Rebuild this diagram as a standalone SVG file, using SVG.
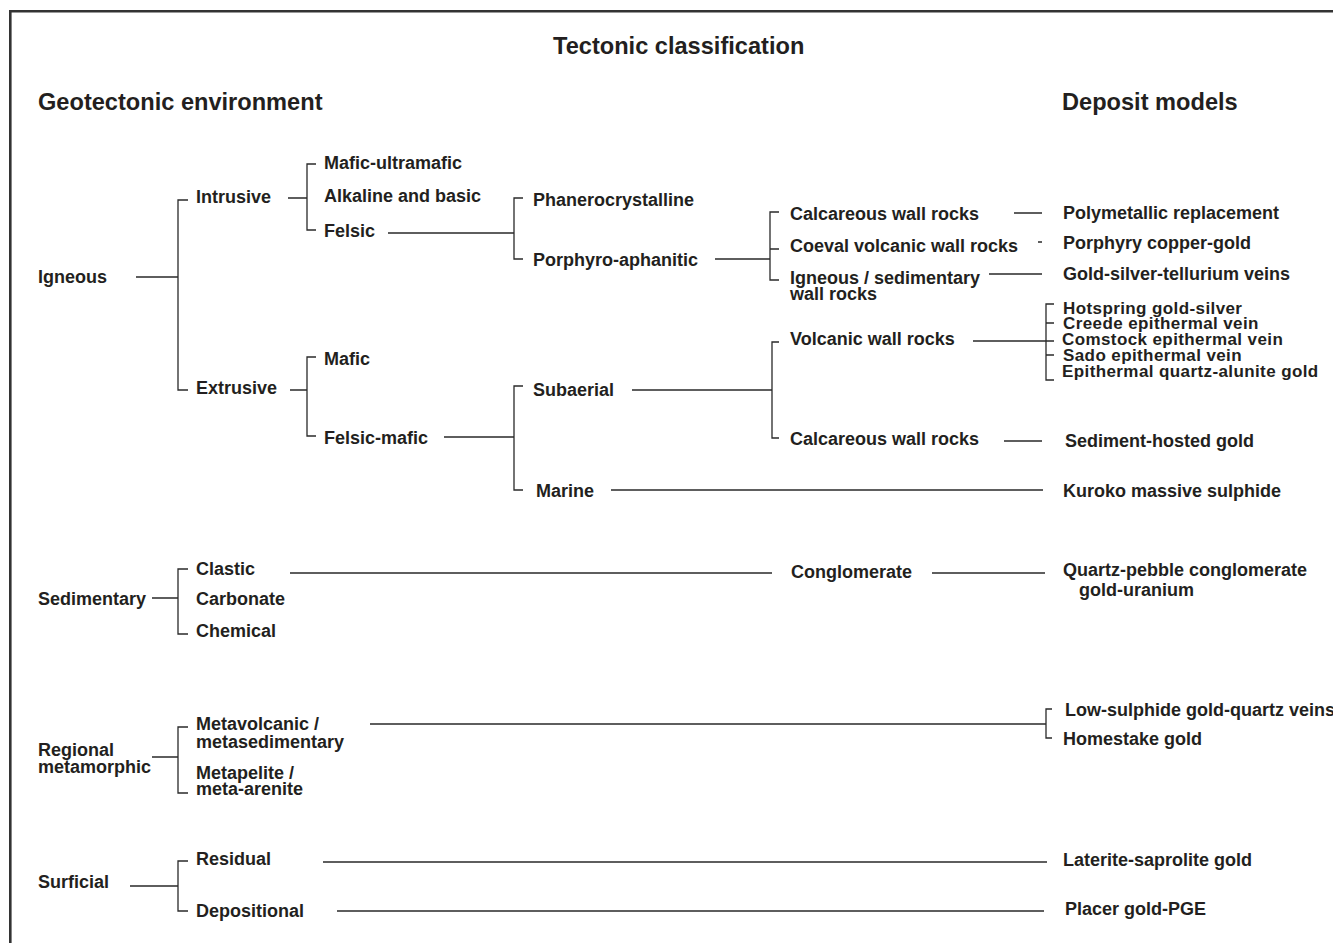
<svg xmlns="http://www.w3.org/2000/svg" width="1333" height="943" viewBox="0 0 1333 943">
<style>
text{font-family:"Liberation Sans",Arial,Helvetica,sans-serif;font-weight:bold;fill:#231f20}
.l{font-size:18px}
.e{font-size:17px;letter-spacing:0.4px}
.h{font-size:23.6px}
.c{fill:none;stroke:#2a2a2a;stroke-width:1.3}
.f{fill:none;stroke:#333;stroke-width:2.6}
</style>
<rect width="1333" height="943" fill="#fff"/>
<g id="frame"><path class="f" d="M10.3 943V11.3H1333"/></g>
<g id="headings">
<text class="h" x="553" y="54">Tectonic classification</text>
<text class="h" x="38" y="110">Geotectonic environment</text>
<text class="h" x="1062" y="110">Deposit models</text>
</g>
<g id="connectors" class="c">
<path d="M136 277H178M188 200H178V390H188"/>
<path d="M288 198H307M316 164H307V230H316"/>
<path d="M290 390H307M316 357H307V436H316"/>
<path d="M388 233H514M523 198H514V259H523"/>
<path d="M715 259H770M779 212H770V280H779M770 249H779"/>
<path d="M444 437H514M523 386H514V490H523"/>
<path d="M632 390H772M779 342H772V438H779"/>
<path d="M1014 213H1042M1038 242H1042M989 274H1042"/>
<path d="M973 341H1054M1054 304H1046V380H1054M1046 323H1054M1046 355H1054"/>
<path d="M1004 441H1042M611 490H1043"/>
<path d="M152 598H178M188 569H178V634H188"/>
<path d="M290 573H772M932 573H1045"/>
<path d="M152 757H178M188 727H178V793H188"/>
<path d="M370 724H1046M1052 709H1046V738H1052"/>
<path d="M130 886H178M188 861H178V911H188"/>
<path d="M323 862H1047M337 911H1044"/>
</g>
<g id="n-igneous"><text class="l" x="38" y="283">Igneous</text></g>
<g id="n-intrusive"><text class="l" x="196" y="203">Intrusive</text></g>
<g id="n-extrusive"><text class="l" x="196" y="394">Extrusive</text></g>
<g id="n-mafic-ultramafic"><text class="l" x="324" y="169">Mafic-ultramafic</text></g>
<g id="n-alkaline"><text class="l" x="324" y="202">Alkaline and basic</text></g>
<g id="n-felsic"><text class="l" x="324" y="237">Felsic</text></g>
<g id="n-mafic"><text class="l" x="324" y="365">Mafic</text></g>
<g id="n-felsic-mafic"><text class="l" x="324" y="444">Felsic-mafic</text></g>
<g id="n-phanero"><text class="l" x="533" y="205.5">Phanerocrystalline</text></g>
<g id="n-porphyro"><text class="l" x="533" y="266.3">Porphyro-aphanitic</text></g>
<g id="n-subaerial"><text class="l" x="533" y="396.3">Subaerial</text></g>
<g id="n-marine"><text class="l" x="536" y="497">Marine</text></g>
<g id="n-calc1"><text class="l" x="790" y="220.3">Calcareous wall rocks</text></g>
<g id="n-coeval"><text class="l" x="790" y="252">Coeval volcanic wall rocks</text></g>
<g id="n-ignsed"><text class="l" x="790" y="283.7">Igneous / sedimentary</text><text class="l" x="790" y="300.3">wall rocks</text></g>
<g id="n-volcanic"><text class="l" x="790" y="344.7">Volcanic wall rocks</text></g>
<g id="n-calc2"><text class="l" x="790" y="444.7">Calcareous wall rocks</text></g>
<g id="n-polymetallic"><text class="l" x="1063" y="219">Polymetallic replacement</text></g>
<g id="n-porphyry"><text class="l" x="1063" y="249">Porphyry copper-gold</text></g>
<g id="n-gst"><text class="l" x="1063" y="279.7">Gold-silver-tellurium veins</text></g>
<g id="n-epithermal">
<text class="e" x="1063" y="313.5">Hotspring gold-silver</text>
<text class="e" x="1063" y="329.3">Creede epithermal vein</text>
<text class="e" x="1062" y="345">Comstock epithermal vein</text>
<text class="e" x="1063" y="360.8">Sado epithermal vein</text>
<text class="e" x="1062" y="376.5">Epithermal quartz-alunite gold</text>
</g>
<g id="n-sediment-hosted"><text class="l" x="1065" y="447.3">Sediment-hosted gold</text></g>
<g id="n-kuroko"><text class="l" x="1063" y="497">Kuroko massive sulphide</text></g>
<g id="n-sedimentary"><text class="l" x="38" y="604.7">Sedimentary</text></g>
<g id="n-clastic"><text class="l" x="196" y="575.3">Clastic</text></g>
<g id="n-carbonate"><text class="l" x="196" y="604.7">Carbonate</text></g>
<g id="n-chemical"><text class="l" x="196" y="637">Chemical</text></g>
<g id="n-conglomerate"><text class="l" x="791" y="578">Conglomerate</text></g>
<g id="n-quartz-pebble"><text class="l" x="1063" y="576">Quartz-pebble conglomerate</text><text class="l" x="1079" y="596">gold-uranium</text></g>
<g id="n-regional"><text class="l" x="38" y="756.3">Regional</text><text class="l" x="38" y="773">metamorphic</text></g>
<g id="n-metavolcanic"><text class="l" x="196" y="730.3">Metavolcanic /</text><text class="l" x="196" y="748">metasedimentary</text></g>
<g id="n-metapelite"><text class="l" x="196" y="778.7">Metapelite /</text><text class="l" x="196" y="794.7">meta-arenite</text></g>
<g id="n-low-sulphide"><text class="l" x="1065" y="716">Low-sulphide gold-quartz veins</text></g>
<g id="n-homestake"><text class="l" x="1063" y="745">Homestake gold</text></g>
<g id="n-surficial"><text class="l" x="38" y="888">Surficial</text></g>
<g id="n-residual"><text class="l" x="196" y="864.7">Residual</text></g>
<g id="n-depositional"><text class="l" x="196" y="917">Depositional</text></g>
<g id="n-laterite"><text class="l" x="1063" y="866">Laterite-saprolite gold</text></g>
<g id="n-placer"><text class="l" x="1065" y="915">Placer gold-PGE</text></g>
</svg>
